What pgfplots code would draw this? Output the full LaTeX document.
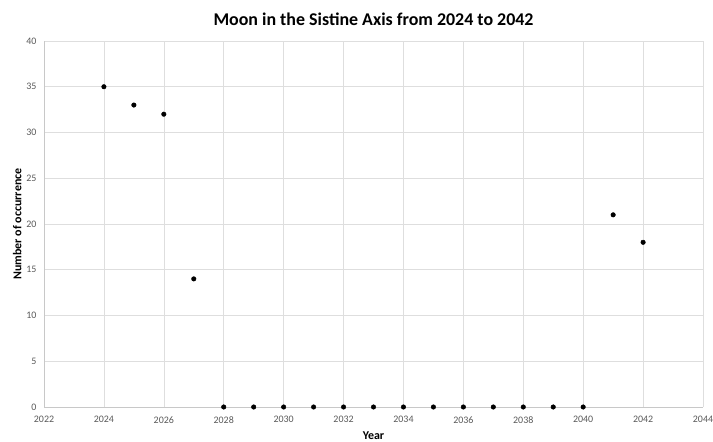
\documentclass[border=0pt]{standalone}
\usepackage{fontspec}
\setmainfont{Carlito}
\usepackage{pgfplots}
\pgfplotsset{compat=1.18}
\definecolor{gridc}{RGB}{222,222,222}
\definecolor{tickc}{RGB}{89,89,89}
\begin{document}
\begin{tikzpicture}[x=1bp,y=1bp]
\useasboundingbox (0,0) rectangle (713,442);
\begin{axis}[
  at={(44bp,35bp)}, anchor=south west,
  scale only axis, width=659bp, height=366bp,
  xmin=2022, xmax=2044, ymin=0, ymax=40,
  xtick={2022,2024,...,2044}, ytick={0,5,...,40},
  xticklabel style={/pgf/number format/1000 sep={}, font=\fontsize{10}{11}\selectfont, text=tickc, yshift=-6pt},
  yticklabel style={font=\fontsize{10}{11}\selectfont, text=tickc, xshift=-4pt},
  /pgf/number format/assume math mode=true,
  grid=major, grid style={gridc, line width=0.6pt},
  axis line style={gridc!90!black, line width=0.8pt},
  axis x line*=bottom, axis y line*=left,
  major tick length=0pt,
  tick style={draw=none},
  xlabel={\textbf{Year}}, ylabel={\textbf{Number of occurrence}},
  xlabel style={font=\fontsize{12}{13}\selectfont, yshift=-2pt},
  ylabel style={font=\fontsize{12}{13}\selectfont, yshift=-2pt},
  title={\textbf{Moon in the Sistine Axis from 2024 to 2042}},
  title style={font=\fontsize{18}{21}\selectfont, at={(0.5,1)}, yshift=6pt},
  clip=false,
]
\addplot[only marks, mark=*, mark size=2.3pt, black] coordinates {
(2024,35) (2025,33) (2026,32) (2027,14) (2028,0) (2029,0) (2030,0) (2031,0) (2032,0) (2033,0) (2034,0) (2035,0) (2036,0) (2037,0) (2038,0) (2039,0) (2040,0) (2041,21) (2042,18)
};
\end{axis}
\end{tikzpicture}
\end{document}
